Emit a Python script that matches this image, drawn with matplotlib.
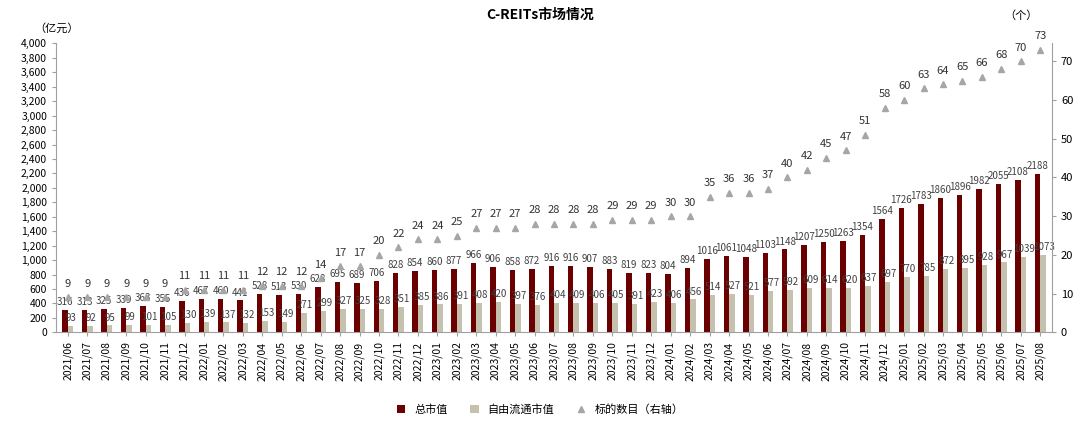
import matplotlib
matplotlib.use("Agg")
import matplotlib.pyplot as plt
import numpy as np

plt.rcParams['font.family'] = ['Noto Sans CJK SC', 'DejaVu Sans']

months = [f"{y}/{m:02d}" for y, m in
          [(2021, m) for m in range(6, 13)] + [(2022, m) for m in range(1, 13)] +
          [(2023, m) for m in range(1, 13)] + [(2024, m) for m in range(1, 13)] +
          [(2025, m) for m in range(1, 9)]]
total = [316,313,325,339,363,355,436,467,460,441,528,513,530,628,695,689,706,828,854,860,877,966,906,858,872,916,916,907,883,819,823,804,894,1016,1061,1048,1103,1148,1207,1250,1263,1354,1564,1726,1783,1860,1896,1982,2055,2108,2188]
free = [93,92,95,99,101,105,130,139,137,132,153,149,271,299,327,325,328,351,385,386,391,408,420,397,376,404,409,406,405,391,423,406,456,514,527,521,577,592,609,614,620,637,697,770,785,872,895,928,967,1039,1073]
count = [9,9,9,9,9,9,11,11,11,11,12,12,12,14,17,17,20,22,24,24,25,27,27,27,28,28,28,28,29,29,29,30,30,35,36,36,37,40,42,45,47,51,58,60,63,64,65,66,68,70,73]

fig = plt.figure(figsize=(10.8, 4.25), dpi=100)
ax = fig.add_axes([0.052, 0.218, 0.93, 0.68])
ax.set_position([0.052, 0.218, 0.922, 0.68])
x = np.arange(len(months))
w = 0.28
b1 = ax.bar(x - w/2, total, w, color='#6B0000', label='总市值')
b2 = ax.bar(x + w/2, free, w, color='#C4C2AE', label='自由流通市值')
for xi, v in zip(x, total):
    ax.text(xi - w/2, v + 40, str(v), ha='center', va='bottom', fontsize=7, color='#404040')
for xi, v in zip(x, free):
    ax.text(xi + w/2 + 0.05, v + 40, str(v), ha='center', va='bottom', fontsize=7, color='#404040')
ax.set_ylim(0, 4000)
ax.set_yticks(range(0, 4001, 200))
ax.set_yticklabels([f"{v:,}" for v in range(0, 4001, 200)], fontsize=7.5)
ax.set_xlim(-0.6, len(months) - 0.4)
ax.set_xticks(x)
ax.set_xticklabels(months, rotation=90, fontsize=7.5)
for s in ['top', 'right']:
    ax.spines[s].set_visible(False)
for s in ['left', 'bottom']:
    ax.spines[s].set_color('#A0A0A0')
ax.tick_params(length=3, color='#A0A0A0')

ax2 = ax.twinx()
l3, = ax2.plot(x, count, linestyle='none', marker='^', markersize=5, color='#A6A6A6', label='标的数目（右轴）')
for xi, v in zip(x, count):
    ax2.text(xi, v + 2.2, str(v), ha='center', va='bottom', fontsize=8, color='#333333')
ax2.set_ylim(0, 74.6)
ax2.set_yticks(range(0, 71, 10))
ax2.tick_params(labelsize=8, length=3, color='#A0A0A0')
for s in ['top', 'left', 'bottom']:
    ax2.spines[s].set_visible(False)
ax2.spines['right'].set_color('#A0A0A0')

fig.text(0.5, 0.955, 'C-REITs市场情况', ha='center', fontsize=10, fontweight='bold')
fig.text(0.052, 0.925, '（亿元）', fontsize=8, ha='center')
fig.text(0.945, 0.955, '（个）', fontsize=8, ha='center')
fig.legend(handles=[b1, b2, l3], loc='lower center', bbox_to_anchor=(0.5, 0.0), ncol=3,
           frameon=False, fontsize=8, handlelength=0.8, columnspacing=2)
fig.savefig('out.png', dpi=100)
